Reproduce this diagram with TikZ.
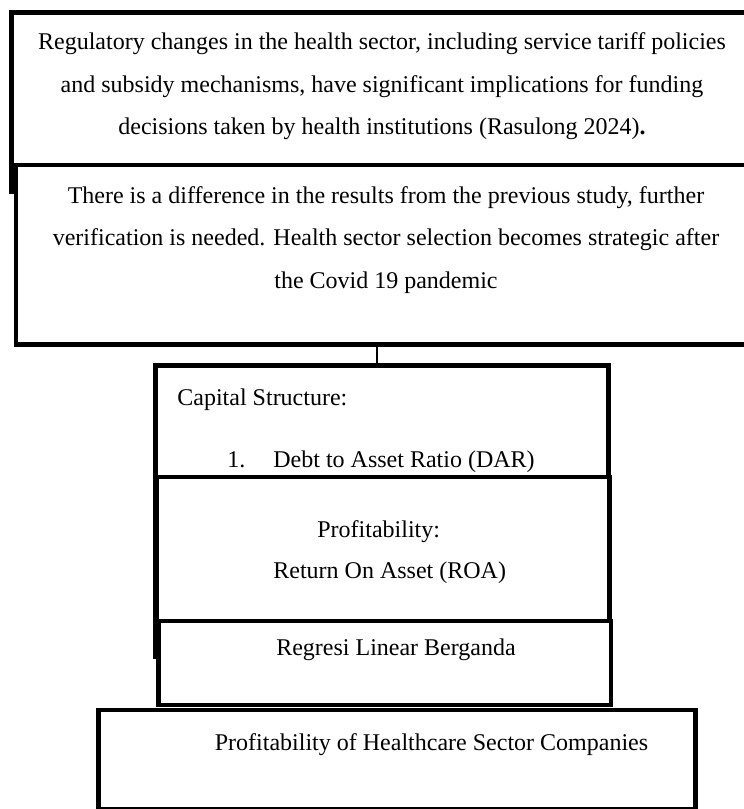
\documentclass[tikz,border=0pt]{standalone}
\usepackage{fontspec}
\setmainfont{Liberation Serif}
\tikzset{
  box/.style={draw=black, line width=2.2pt, fill=white, inner sep=0pt, outer sep=0pt, anchor=north west},
  conn/.style={draw=black, line width=1pt},
  txt/.style={font=\fontsize{12}{21.25}\selectfont, inner sep=0pt, align=center},
}
\begin{document}
\begin{tikzpicture}[x=0.5pt,y=-0.5pt]
\useasboundingbox (0,0) rectangle (744,809);
\clip (0,0) rectangle (744,809);
% top boxes
\node[box, minimum width=374.25pt, minimum height=89.75pt] (b1) at (11.5,12.5) {};
\node[box, minimum width=372pt, minimum height=89.75pt] (b2) at (16,165) {};
% lower stack
\node[box, minimum width=226.5pt, minimum height=145.75pt] (b3) at (155.5,365.5) {};
\node[box, minimum width=226.25pt, minimum height=72pt] (b4) at (157,477) {};
\node[box, minimum width=226.25pt, minimum height=42pt] (b5) at (158.5,621) {};
\node[box, minimum width=298.5pt, minimum height=49.5pt] (b6) at (98.5,710) {};
% connector
\coordinate (cx) at (377,355);
\draw[conn] (cx |- b2.south) -- (cx |- b3.north);
% texts
\node[txt] (t1) at (382,86.3) {Regulatory changes in the health sector, including service tariff policies\\ and subsidy mechanisms, have significant implications for funding\\ decisions taken by health institutions (Rasulong 2024)\textbf{.}};
\node[txt] (t2) at (386,240) {There is a difference in the results from the previous study, further\\ verification is needed. Health sector selection becomes strategic after\\ the Covid 19 pandemic};
\node[txt, anchor=west] (t3) at (177,400) {Capital Structure:};
\node[txt, anchor=west] (t4) at (227,462) {1.\hspace{14pt}Debt to Asset Ratio (DAR)};
\node[txt, anchor=west] (t5) at (317,532) {Profitability:};
\node[txt, anchor=west] (t6) at (273,573) {Return On Asset (ROA)};
\node[txt] (t7) at (396,650) {Regresi Linear Berganda};
\node[txt] (t8) at (431.5,745) {Profitability of Healthcare Sector Companies};
\end{tikzpicture}
\end{document}
